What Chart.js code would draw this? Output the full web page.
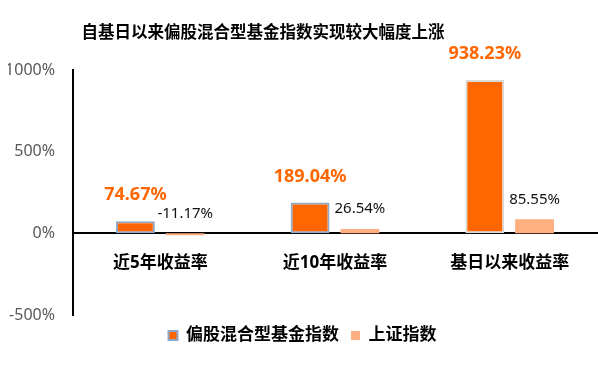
<!DOCTYPE html>
<html>
<head>
<meta charset="utf-8">
<script src="https://cdn.jsdelivr.net/npm/chart.js"></script>
<style>
  html, body { margin: 0; padding: 0; background: #fff; }
  #wrap { width: 598px; height: 365px; }
</style>
</head>
<body>
<div id="wrap"><canvas id="Chart"></canvas></div>
<script>
const categories = ['近5年收益率', '近10年收益率', '基日以来收益率'];
const fundValues = [74.67, 189.04, 938.23];
const shValues = [-11.17, 26.54, 85.55];
const seriesNames = ['偏股混合型基金指数', '上证指数'];
const yTicks = [-500, 0, 500, 1000];

const FONT = '"Noto Sans", "Noto Sans CJK SC", sans-serif';
const ORANGE = '#FF6600';
const LIGHT = '#FFAF80';

// 标题单独画，原图标题并不居中
const titlePlugin = {
  id: 'customTitle',
  afterDraw(chart) {
    const c = chart.ctx;
    c.save();
    c.font = 'bold 16.5px ' + FONT;
    c.fillStyle = '#000';
    c.textAlign = 'center';
    c.textBaseline = 'middle';
    c.fillText('自基日以来偏股混合型基金指数实现较大幅度上涨', 263, 33);
    c.restore();
  }
};

// 数据标签
const labelPlugin = {
  id: 'barLabels',
  afterDatasetsDraw(chart) {
    const c = chart.ctx;
    c.save();
    c.textAlign = 'center';
    c.textBaseline = 'middle';
    chart.data.datasets.forEach((ds, i) => {
      const meta = chart.getDatasetMeta(i);
      meta.data.forEach((bar, j) => {
        const top = Math.min(bar.y, bar.base);
        const txt = ds.data[j].toFixed(2) + '%';
        if (i === 0) {
          c.font = 'bold 18px ' + FONT;
          c.fillStyle = ORANGE;
          c.fillText(txt, bar.x, top - 26);
        } else {
          c.font = '15px ' + FONT;
          c.fillStyle = '#111';
          c.fillText(txt, bar.x, top - 20);
        }
      });
    });
    c.restore();
  }
};

const chart = new Chart(document.getElementById('Chart').getContext('2d'), {
  type: 'bar',
  data: {
    labels: categories,
    datasets: [
      {
        label: seriesNames[0],
        data: fundValues,
        backgroundColor: ORANGE,
        borderColor: ['#8EA9C8', '#8EA9C8', '#D9D9D9'],
        borderWidth: 2,
        borderSkipped: false,
        categoryPercentage: 0.57,
        barPercentage: 0.78
      },
      {
        label: seriesNames[1],
        data: shValues,
        backgroundColor: LIGHT,
        borderWidth: 0,
        categoryPercentage: 0.57,
        barPercentage: 0.78
      }
    ]
  },
  options: {
    responsive: true,
    maintainAspectRatio: false,
    animation: false,
    layout: { padding: { top: 70, left: 8, right: 1, bottom: 11 } },
    plugins: {
      title: { display: false },
      tooltip: { enabled: false },
      legend: {
        position: 'bottom',
        labels: {
          font: { family: FONT, size: 17, weight: 'bold' },
          color: '#000',
          boxWidth: 9,
          boxHeight: 9,
          padding: 12,
          generateLabels(chart) {
            return chart.data.datasets.map((ds, i) => ({
              text: ds.label,
              fillStyle: ds.backgroundColor,
              strokeStyle: i === 0 ? '#8EA9C8' : ds.backgroundColor,
              lineWidth: i === 0 ? 2 : 0,
              fontColor: '#000',
              datasetIndex: i
            }));
          }
        }
      }
    },
    scales: {
      x: {
        position: { y: 0 },
        grid: { display: false, drawTicks: false },
        border: { color: '#000', width: 2 },
        ticks: {
          font: { family: FONT, size: 17, weight: 'bold' },
          color: '#000',
          padding: 20
        }
      },
      y: {
        min: -500,
        max: 1000,
        afterBuildTicks(scale) {
          scale.ticks = yTicks.map(v => ({ value: v }));
        },
        afterFit(scale) { scale.width = 65; },
        grid: { display: false, drawTicks: false },
        border: { color: '#000', width: 2 },
        ticks: {
          font: { family: FONT, size: 16 },
          color: '#595959',
          padding: 18,
          callback: v => v + '%'
        }
      }
    }
  },
  plugins: [titlePlugin, labelPlugin]
});
</script>
</body>
</html>
